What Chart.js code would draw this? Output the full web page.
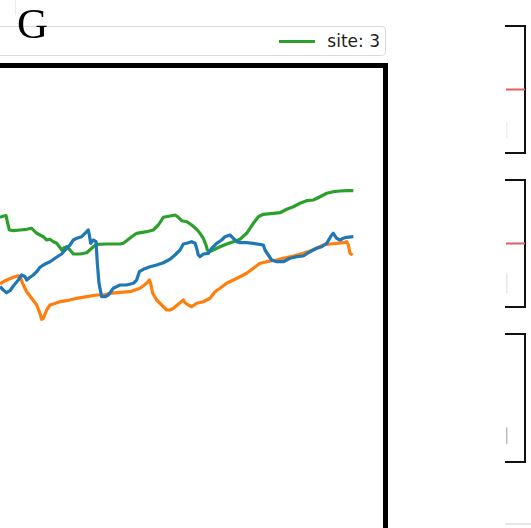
<!DOCTYPE html>
<html>
<head>
<meta charset="utf-8">
<script src="https://cdn.jsdelivr.net/npm/chart.js@4.4.1/dist/chart.umd.min.js"></script>
<style>
  html, body { margin: 0; padding: 0; width: 531px; height: 528px; overflow: hidden; background: #fff; }
  body { position: relative; font-family: "DejaVu Sans", sans-serif; }
  .abs { position: absolute; }
  #mainChart { left: -200px; top: 0; }
  #panelLetter { left: 17px; top: -3px; font-family: "Liberation Serif", "DejaVu Serif", serif; font-size: 43px; color: #000; line-height: 53px; }
  #legendBox { left: -20px; top: 26px; width: 406px; height: 30px; box-sizing: border-box;
    border: 1px solid #d9d9d9; border-radius: 4px; background: #fff;
    display: flex; justify-content: flex-end; align-items: center; padding-right: 5px; gap: 520px; }
  .legItem { display: flex; align-items: center; white-space: nowrap; flex: none; }
  .legLine { width: 36px; height: 3px; margin-right: 12px; }
  .legText { font-size: 17px; color: #222; }
  #topRule { left: 15px; top: 0; width: 1px; height: 15px; background: #ececec; }
</style>
</head>
<body>
<div id="topRule" class="abs"></div>
<canvas id="mainChart" class="abs" width="600" height="700"></canvas>
<div id="legendBox" class="abs"></div>
<div id="panelLetter" class="abs">G</div>
<canvas id="side1" class="abs" width="45" height="147" style="left:486px;top:16px"></canvas>
<canvas id="side2" class="abs" width="45" height="147" style="left:486px;top:170px"></canvas>
<canvas id="side3" class="abs" width="45" height="148" style="left:486px;top:324px"></canvas>
<canvas id="side4" class="abs" width="45" height="40" style="left:486px;top:514px"></canvas>
<script>
// Series labels and colours
const siteLabels = ['site: 1', 'site: 2', 'site: 3'];
const siteColors = ['#1f77b4', '#ff7f0e', '#2ca02c'];

// site 1 (blue)
const site1Steps = [0,10,20,30,40,55,65,75,80,90,100,110,120,130,140,150,165,175,185,195,210,220,230,245,255,265,268,272,280,288,292,297,305,315,325,340,360,380,400,410,418,430,450,470,490,510,525,540,550,560,575,585,590,595,600,610,625,635,650,665,675,690,700,710,720,740,760,790,795,805,815,830,850,870,890,910,930,950,965,980,995,1000,1010,1020,1030,1040,1060];
const site1Values = [4.33,4.0,3.73,3.93,4.4,5.0,5.5,5.33,5.0,5.27,5.5,5.83,6.27,6.5,6.67,6.83,7.17,7.4,7.6,8.0,8.5,9.0,9.17,9.33,9.67,10.0,9.5,8.67,9.0,8.83,6.67,4.67,3.33,3.33,3.5,4.17,4.5,4.5,4.67,5.0,5.83,6.07,6.33,6.5,6.73,7.07,7.5,8.0,8.6,8.67,8.83,8.67,8.17,7.5,7.33,7.6,7.67,8.17,8.67,9.0,9.33,9.5,9.17,8.83,8.73,8.73,8.67,8.5,8.0,7.5,7.0,6.83,6.83,7.17,7.33,7.4,7.83,8.17,8.33,8.67,9.5,9.67,9.17,9.0,9.17,9.27,9.33];

// site 2 (orange)
const site2Steps = [0,10,20,40,55,62,70,80,95,110,120,125,130,140,150,160,180,200,230,260,290,310,330,360,390,420,440,448,452,458,470,485,500,510,520,540,550,555,565,575,590,610,630,645,660,680,700,720,740,760,780,800,830,850,880,910,930,950,970,990,1010,1030,1040,1045,1050,1058];
const site2Values = [4.6,4.83,5.0,5.27,5.43,5.17,4.5,3.83,3.17,2.5,1.67,1.07,1.17,2.0,2.5,2.6,2.83,2.93,3.17,3.33,3.5,3.5,3.67,3.77,3.83,4.17,4.67,5.0,4.67,3.67,3.0,2.5,2.0,2.0,2.17,2.73,3.0,2.73,2.5,2.33,2.67,2.83,3.17,3.83,4.17,4.67,5.0,5.33,5.67,6.17,6.67,6.83,7.0,7.17,7.4,7.67,7.9,8.17,8.5,8.6,8.67,8.73,8.83,8.5,7.67,7.5];

// site 3 (green)
const site3Steps = [0,12,18,22,28,40,60,80,95,100,110,130,140,150,160,170,178,185,190,200,210,220,240,260,280,290,320,360,370,380,395,410,440,460,475,490,510,525,535,545,560,575,590,600,610,618,622,628,640,660,680,700,720,740,760,775,790,820,840,860,880,900,920,940,960,980,1000,1020,1040,1060];
const site3Values = [11.27,11.4,11.43,10.83,10.0,9.93,10.0,10.07,10.17,10.0,9.67,9.33,9.0,9.07,8.83,8.67,8.33,8.0,8.17,8.33,8.0,7.6,7.6,7.73,8.33,8.57,8.6,8.6,8.67,8.93,9.33,9.67,9.83,10.0,10.5,11.27,11.4,11.5,11.27,10.93,10.83,10.5,10.07,9.67,9.17,8.5,8.0,7.83,8.0,8.33,8.6,8.83,9.07,9.67,10.67,11.33,11.57,11.67,11.73,12.07,12.33,12.67,12.93,13.0,13.33,13.67,13.83,13.9,13.93,13.93];

// Side panels: reference level and short marker segment in each
const sideLevels = [0.5, 0.5, null];
const sideMarkLow = [0.12, 0.11, 0.14];
const sideMarkHigh = [0.24, 0.27, 0.27];
const sideMarkColors = ['#efefef', '#e6e6e6', '#bdbdbd'];

const toPoints = (xs, ys) => xs.map((x, i) => ({ x: x, y: ys[i] }));
const seriesSteps = [site1Steps, site2Steps, site3Steps];
const seriesValues = [site1Values, site2Values, site3Values];

// Legend (entries laid out in one row, right aligned)
const legendBox = document.getElementById('legendBox');
siteLabels.forEach((label, i) => {
  const item = document.createElement('div');
  item.className = 'legItem';
  const line = document.createElement('div');
  line.className = 'legLine';
  line.style.background = siteColors[i];
  const text = document.createElement('span');
  text.className = 'legText';
  text.textContent = label;
  item.appendChild(line);
  item.appendChild(text);
  legendBox.appendChild(item);
});

const hiddenAxis = (extra) => Object.assign({
  type: 'linear',
  ticks: { display: false },
  grid: { display: false, drawTicks: false },
  border: { display: true, width: 5, color: '#000' }
}, extra);

new Chart(document.getElementById('mainChart'), {
  type: 'line',
  data: {
    datasets: siteLabels.map((label, i) => ({
      label: label,
      data: toPoints(seriesSteps[i], seriesValues[i]),
      borderColor: siteColors[i],
      backgroundColor: siteColors[i],
      borderWidth: 3.2,
      pointRadius: 0,
      tension: 0,
      borderJoinStyle: 'round',
      fill: false
    }))
  },
  options: {
    responsive: false,
    animation: false,
    events: [],
    layout: { padding: { left: 50, right: 15, top: 65, bottom: 40 } },
    plugins: { legend: { display: false }, tooltip: { enabled: false } },
    scales: {
      x: hiddenAxis({ position: 'bottom', min: -450, max: 1155 }),
      xTop: hiddenAxis({ position: 'top', min: -450, max: 1155 }),
      y: hiddenAxis({ position: 'left', min: -33, max: 26.5 }),
      yRight: hiddenAxis({ position: 'right', min: -33, max: 26.5 })
    }
  }
});

const sideAxis = (extra, showBorder, color) => Object.assign({
  type: 'linear', min: 0, max: 1,
  ticks: { display: false },
  grid: { display: false, drawTicks: false },
  border: { display: showBorder, width: 2, color: color || '#111' }
}, extra);

function sidePanel(id, idx) {
  const datasets = [];
  if (sideLevels[idx] !== null) {
    datasets.push({
      data: [{ x: 0, y: sideLevels[idx] }, { x: 1, y: sideLevels[idx] }],
      borderColor: '#e25c5f', borderWidth: 2, pointRadius: 0, fill: false
    });
  }
  datasets.push({
    data: [{ x: 0.04, y: sideMarkLow[idx] }, { x: 0.04, y: sideMarkHigh[idx] }],
    borderColor: sideMarkColors[idx], borderWidth: 1.5, pointRadius: 0, fill: false
  });
  new Chart(document.getElementById(id), {
    type: 'line',
    data: { datasets: datasets },
    options: {
      responsive: false, animation: false, events: [],
      layout: { padding: { left: 20, right: 6, top: 10, bottom: 10 } },
      plugins: { legend: { display: false }, tooltip: { enabled: false } },
      scales: {
        x: sideAxis({ position: 'bottom' }, true),
        xTop: sideAxis({ position: 'top' }, true),
        y: sideAxis({ position: 'left' }, false),
        yRight: sideAxis({ position: 'right' }, true)
      }
    }
  });
}
sidePanel('side1', 0);
sidePanel('side2', 1);
sidePanel('side3', 2);

// Top edge of the next panel down, drawn faint
new Chart(document.getElementById('side4'), {
  type: 'line',
  data: { datasets: [] },
  options: {
    responsive: false, animation: false, events: [],
    layout: { padding: { left: 20, right: 0, top: 10, bottom: 0 } },
    plugins: { legend: { display: false }, tooltip: { enabled: false } },
    scales: {
      x: sideAxis({ position: 'bottom' }, false),
      xTop: sideAxis({ position: 'top' }, true, '#e6e6e6'),
      y: sideAxis({ position: 'left' }, false)
    }
  }
});
</script>
</body>
</html>
